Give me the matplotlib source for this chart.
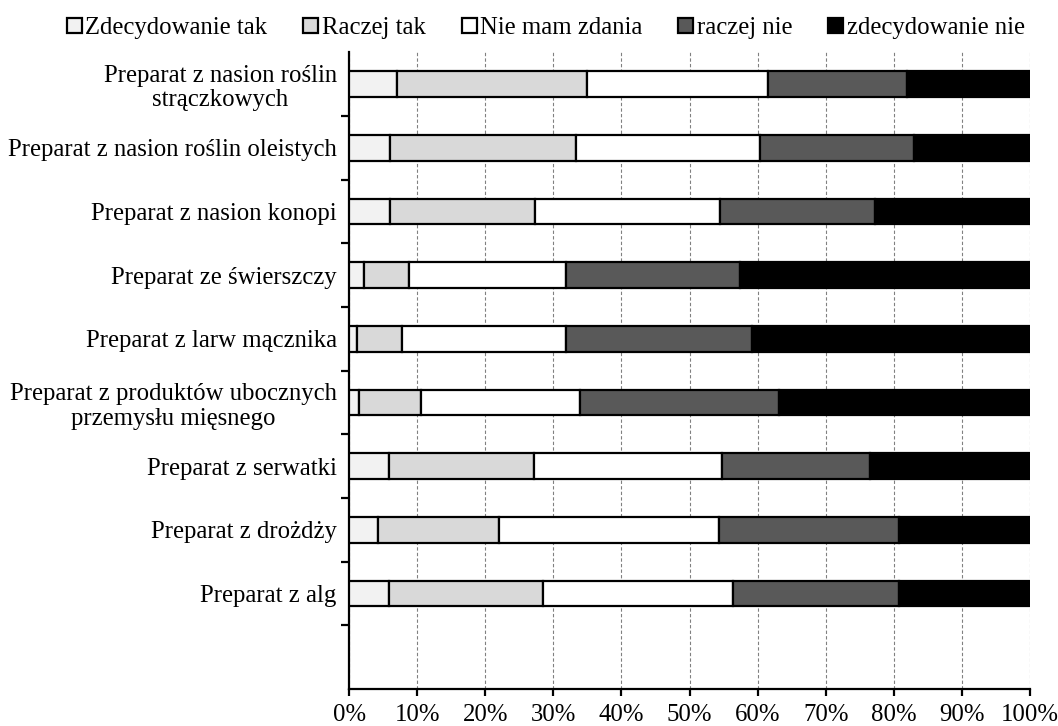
import numpy as np
import matplotlib
matplotlib.use("Agg")
import matplotlib.pyplot as plt
import matplotlib.ticker as ticker

plt.rcParams['font.family'] = ['Liberation Serif', 'DejaVu Serif']

categories = [
    "Preparat z nasion roślin\nstrączkowych",
    "Preparat z nasion roślin oleistych",
    "Preparat z nasion konopi",
    "Preparat ze świerszczy",
    "Preparat z larw mącznika",
    "Preparat z produktów ubocznych\nprzemysłu mięsnego",
    "Preparat z serwatki",
    "Preparat z drożdży",
    "Preparat z alg",
]
answers = ["Zdecydowanie tak", "Raczej tak", "Nie mam zdania", "raczej nie", "zdecydowanie nie"]

# shares of answers (%) per product
zdecydowanie_tak = [7.1, 6.0, 6.0, 2.2, 1.2, 1.4, 5.8, 4.3, 5.8]
raczej_tak = [27.8, 27.3, 21.3, 6.6, 6.5, 9.2, 21.4, 17.7, 22.7]
nie_mam_zdania = [26.6, 27.0, 27.1, 23.0, 24.2, 23.3, 27.5, 32.3, 27.9]
raczej_nie = [20.4, 22.7, 22.9, 25.6, 27.2, 29.2, 21.8, 26.4, 24.4]
zdecydowanie_nie = [18.1, 17.0, 22.7, 42.6, 40.9, 36.9, 23.5, 19.3, 19.2]

series = [zdecydowanie_tak, raczej_tak, nie_mam_zdania, raczej_nie, zdecydowanie_nie]
colors = ["#f2f2f2", "#d9d9d9", "#ffffff", "#595959", "#000000"]
FS = 17.8

fig = plt.figure(figsize=(10.58, 7.26), dpi=100)
ax = fig.add_axes([0.330, 0.051, 0.6435, 0.877])

y = np.arange(len(categories))
left = np.zeros(len(categories))
for vals, col, name in zip(series, colors, answers):
    vals = np.array(vals)
    ax.barh(y, vals, left=left, height=0.4, color=col, edgecolor="black",
            linewidth=1.6, label=name, zorder=3)
    left += vals

ax.set_xlim(0, 100)
ax.set_ylim(9.5, -0.5)

ax.xaxis.set_major_locator(ticker.MultipleLocator(10))
ax.xaxis.set_major_formatter(ticker.FuncFormatter(lambda v, p: f"{v:.0f}%"))
ax.grid(axis="x", linestyle=(0, (3, 2)), color="#808080", linewidth=0.8, zorder=0)

ax.set_yticks(y)
ax.set_yticklabels(categories, multialignment="center", linespacing=1.15)
ax.set_yticks(np.arange(0.5, 9.0, 1.0), minor=True)
ax.tick_params(axis="y", which="major", length=0, pad=9, labelsize=FS)
ax.tick_params(axis="y", which="minor", length=6, width=1.6, direction="out")
ax.tick_params(axis="x", length=5, width=1.6, direction="out", pad=6, labelsize=FS)

for s in ["top", "right"]:
    ax.spines[s].set_visible(False)
for s in ["left", "bottom"]:
    ax.spines[s].set_linewidth(1.6)

fig.legend(loc="center", bbox_to_anchor=(0.516, 0.961), ncol=5, frameon=False,
           fontsize=FS, handlelength=0.6, handleheight=0.6, handletextpad=0.15,
           columnspacing=1.45)

fig.savefig("out.png", dpi=100)
